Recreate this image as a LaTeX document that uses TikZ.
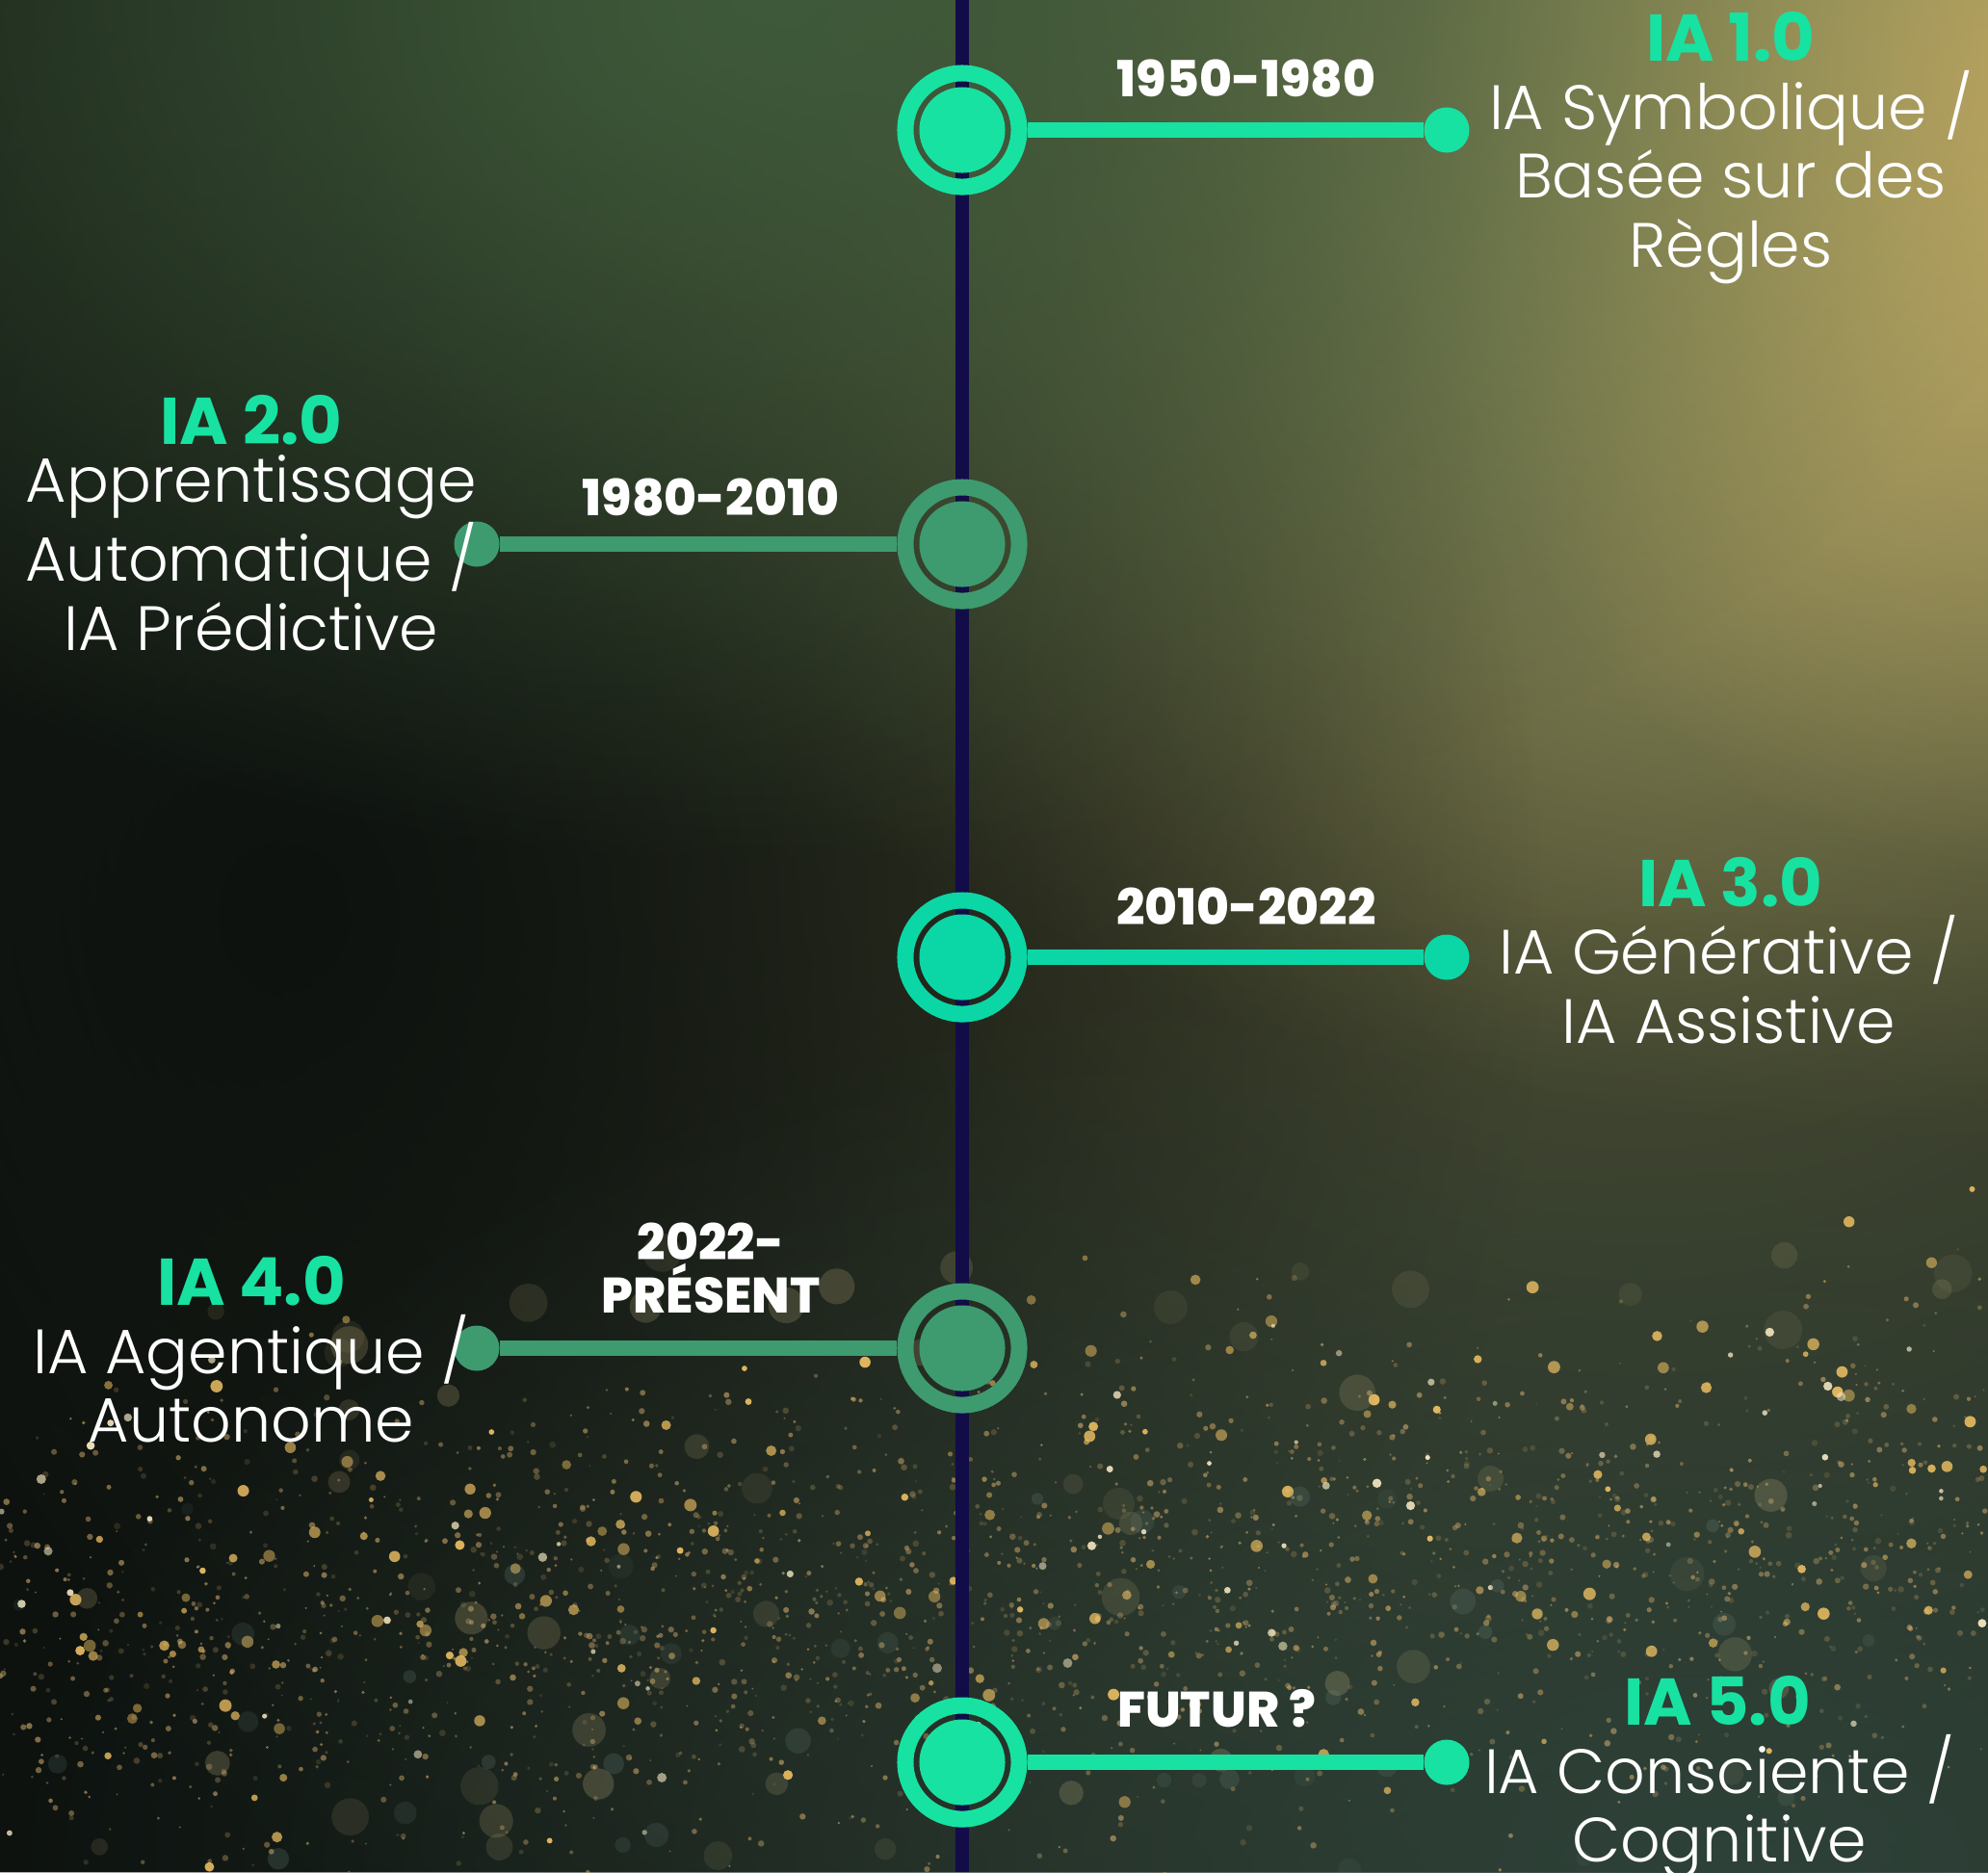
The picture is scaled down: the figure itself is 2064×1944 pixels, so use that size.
\documentclass[tikz,border=0pt]{standalone}
\usepackage{fontspec}
\setmainfont{Poppins}
\newfontfamily\lightfont{Poppins Light}
\newfontfamily\heavyfont{Poppins ExtraBold}
\usetikzlibrary{fadings}
\definecolor{neon}{HTML}{17E2A2}
\definecolor{aqua}{HTML}{0BD6A6}
\definecolor{sage}{HTML}{3E9A6F}
\definecolor{axisnavy}{HTML}{120C48}
\definecolor{bgdark}{HTML}{0D120F}
\definecolor{olivelight}{HTML}{A4A268}
\definecolor{straw}{HTML}{C0A862}
\definecolor{mossy}{HTML}{3E5A3A}
\definecolor{olivemid}{HTML}{5E5E3C}
\definecolor{tealdark}{HTML}{2E4239}
\definecolor{dust}{HTML}{C9A468}
\definecolor{gold}{HTML}{EABD62}
\definecolor{glint}{HTML}{F4E6C0}
\definecolor{bokeh}{HTML}{B8A878}
\definecolor{mist}{HTML}{6F8A80}
\tikzfading[name=glow,inner color=transparent!0,outer color=transparent!100]
\tikzset{
  marker/.style={circle,draw=#1,line width=0.17cm,minimum size=1.18cm,
    inner sep=0pt,path picture={\fill[#1] (path picture bounding box.center)
      circle (0.445cm);}},
  enddot/.style={circle,fill=#1,minimum size=0.47cm,inner sep=0pt},
  link/.style={draw=#1,line width=0.16cm},
  datelbl/.style={anchor=base,text=white,align=center,inner sep=0pt,
    font=\heavyfont\fontsize{14.7}{13.66}\selectfont},
  eratitle/.style={anchor=base,text=neon,inner sep=0pt,
    font=\bfseries\fontsize{19.5}{20.2}\selectfont},
  eradesc/.style={anchor=base,text=white,align=center,inner sep=0pt,
    font=\lightfont\fontsize{18.5}{20.2}\selectfont}}

\begin{document}
\begin{tikzpicture}[x=0.01cm,y=-0.01cm]
  \useasboundingbox (0,0) rectangle (2064,1944);

  % backdrop
  \begin{scope}
  \clip (0,0) rectangle (2064,1944);
  \fill[bgdark] (0,0) rectangle (2064,1944);
  \fill[olivemid,path fading=glow,opacity=.9] (1700,700) ellipse (2000 and 1800);
  \fill[olivelight,path fading=glow] (2064,80) ellipse (1700 and 1100);
  \fill[straw,path fading=glow] (2064,100) ellipse (600 and 800);
  \fill[bgdark,path fading=glow] (300,950) ellipse (1300 and 1500);
  \fill[mossy,path fading=glow] (800,0) ellipse (1400 and 900);
  \fill[tealdark,path fading=glow] (1800,1944) ellipse (1800 and 1000);
  \pgfmathsetseed{2024}
  % fine dust band
  \foreach \k in {1,...,2200}{
    \pgfmathsetmacro\gx{rnd*2064}
    \pgfmathsetmacro\gy{1720-0.06*\gx+(rnd+rnd+rnd-1.5)*230}
    \pgfmathsetmacro\gr{1+rnd*2.4}
    \pgfmathsetmacro\go{.15+rnd*.5}
    \fill[dust,opacity=\go] (\gx,\gy) circle[radius=\gr];
  }
  % bright glints
  \foreach \k in {1,...,200}{
    \pgfmathsetmacro\gx{rnd*2064}
    \pgfmathsetmacro\gy{1700-0.1*\gx+(rnd+rnd-1)*320}
    \pgfmathsetmacro\gr{2.5+rnd*4}
    \pgfmathsetmacro\go{.45+rnd*.5}
    \fill[gold,opacity=\go] (\gx,\gy) circle[radius=\gr];
  }
  \foreach \k in {1,...,70}{
    \pgfmathsetmacro\gx{rnd*2064}
    \pgfmathsetmacro\gy{1680-0.08*\gx+(rnd+rnd-1)*300}
    \pgfmathsetmacro\gr{2+rnd*3}
    \pgfmathsetmacro\go{.5+rnd*.5}
    \fill[glint,opacity=\go] (\gx,\gy) circle[radius=\gr];
  }
  % soft bokeh
  \foreach \k in {1,...,60}{
    \pgfmathsetmacro\gx{rnd*2064}
    \pgfmathsetmacro\gy{1300+rnd*644}
    \pgfmathsetmacro\gr{8+rnd*12}
    \pgfmathsetmacro\go{.08+rnd*.18}
    \fill[bokeh,opacity=\go] (\gx,\gy) circle[radius=\gr];
  }
  \foreach \k in {1,...,40}{
    \pgfmathsetmacro\gx{rnd*2064}
    \pgfmathsetmacro\gy{1550+rnd*394}
    \pgfmathsetmacro\gr{6+rnd*8}
    \pgfmathsetmacro\go{.08+rnd*.15}
    \fill[mist,opacity=\go] (\gx,\gy) circle[radius=\gr];
  }
  \end{scope}

  % axis
  \coordinate (axtop) at (999,0);
  \coordinate (axbot) at (999,1944);
  \draw[axisnavy,line width=0.14cm] (axtop) -- (axbot);

  % markers and end dots
  \node[marker=neon] (m1) at (999,135) {};
  \node[marker=sage] (m2) at (999,565) {};
  \node[marker=aqua] (m3) at (999,994) {};
  \node[marker=sage] (m4) at (999,1400) {};
  \node[marker=neon] (m5) at (999,1830) {};
  \node[enddot=neon] (d1) at (1502,135) {};
  \node[enddot=sage] (d2) at (495,565) {};
  \node[enddot=aqua] (d3) at (1502,994) {};
  \node[enddot=sage] (d4) at (495,1400) {};
  \node[enddot=neon] (d5) at (1502,1830) {};

  \draw[link=neon] (m1) -- (d1);
  \draw[link=sage] (m2) -- (d2);
  \draw[link=aqua] (m3) -- (d3);
  \draw[link=sage] (m4) -- (d4);
  \draw[link=neon] (m5) -- (d5);

  % periods (base = last line)
  \node[datelbl] (y1) at (1294,100) {1950-1980};
  \node[datelbl] (y2) at (738,535) {1980-2010};
  \node[datelbl] (y3) at (1294,960) {2010-2022};
  \node[datelbl] (y4) at (738,1363) {2022-\\PRÉSENT};
  \node[datelbl] (y5) at (1263,1793) {FUTUR ?};

  % eras
  \node[eratitle] (h1) at (1797,63) {IA 1.0};
  \node[eradesc] (e1) at (1797,277) {IA Symbolique /\\Basée sur des\\Règles};
  \node[eratitle] (h2) at (261,461) {IA 2.0};
  \node[eradesc] (e2) at (261,675) {Apprentissage\\Automatique /\\IA Prédictive};
  \node[eratitle] (h3) at (1797,941) {IA 3.0};
  \node[eradesc] (e3) at (1795,1083) {IA Générative /\\IA Assistive};
  \node[eratitle] (h4) at (261,1355) {IA 4.0};
  \node[eradesc] (e4) at (261,1497) {IA Agentique /\\Autonome};
  \node[eratitle] (h5) at (1783,1791) {IA 5.0};
  \node[eradesc] (e5) at (1785,1933) {IA Consciente /\\Cognitive};
\end{tikzpicture}
\end{document}
